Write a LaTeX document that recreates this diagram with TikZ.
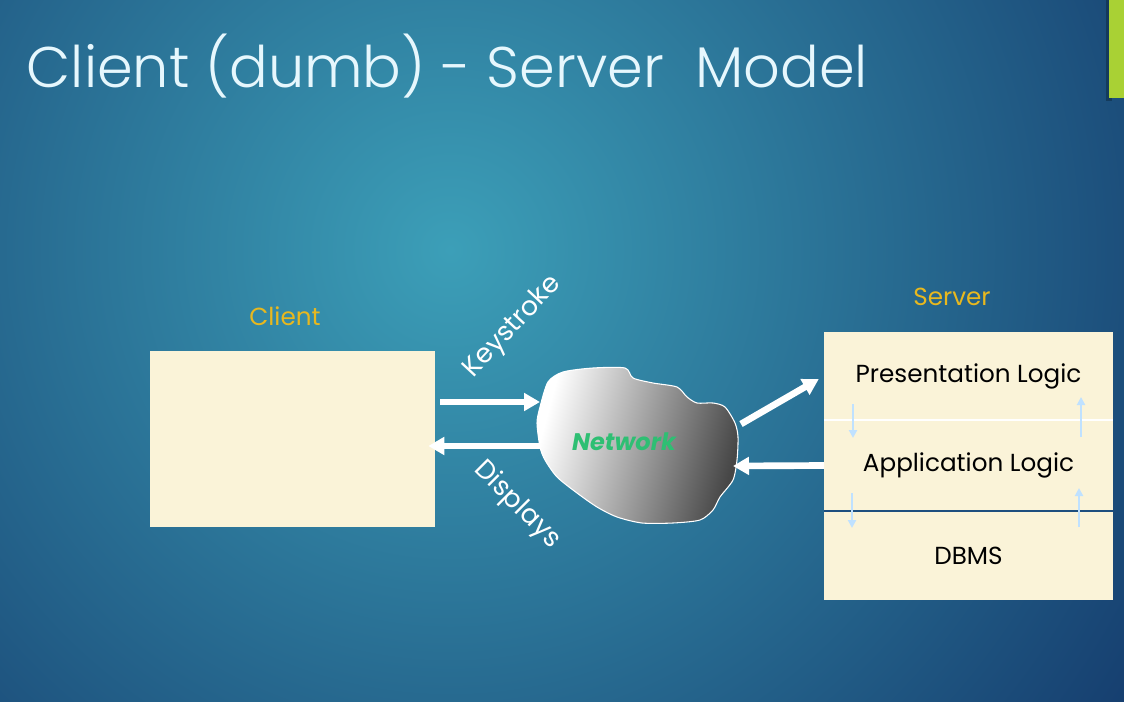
\documentclass[tikz,border=0pt]{standalone}
\usepackage{fontspec}
\setmainfont{Poppins}
\newfontfamily\titlefont{Poppins Light}
\usetikzlibrary{arrows.meta,positioning}
\definecolor{bgin}{HTML}{3C9FB8}
\definecolor{bgout}{HTML}{143A6C}
\definecolor{cream}{HTML}{FAF3D8}
\definecolor{gold}{HTML}{E8B81E}
\definecolor{netgreen}{HTML}{2EBF73}
\definecolor{lime}{HTML}{A9D134}
\definecolor{paleblue}{HTML}{BFE1FF}
\definecolor{divider}{HTML}{1D4E7E}

\begin{document}
\begin{tikzpicture}[x=0.75pt,y=-0.75pt,
    box/.style={fill=cream,inner sep=0pt,outer sep=0pt,font=\fontsize{18.5}{22}\selectfont},
    layer/.style={box,minimum width=216.75pt},
    tag/.style={text=gold,font=\fontsize{18.5}{22}\selectfont},
    fat/.style={line width=5pt,white,-{Triangle[length=12pt,width=13pt]}},
    slim/.style={line width=1.6pt,paleblue,-{Triangle[length=6pt,width=6pt]}},
    edge/.style={text=white,font=\fontsize{20}{24}\selectfont}]
\useasboundingbox (0,0) rectangle (1124,702);
\begin{scope}
  \clip (0,0) rectangle (1124,702);
  \fill[bgout] (0,0) rectangle (1124,702);
  \shade[inner color=bgin,outer color=bgout] (450,250) circle (640pt);
\end{scope}
\fill[black,opacity=0.25] (1106,0) rectangle (1112,101);
\fill[lime] (1109,0) rectangle (1124,98);
\node[anchor=base west,text=white!90!cyan,font=\titlefont\fontsize{43}{48}\selectfont] (title) at (22,88) {Client (dumb) - Server\ \ Model};

\node[box,minimum width=213.75pt,minimum height=132pt] (client) at (292.5,439) {};
\node[tag] (clientlbl) at (285,316) {Client};

\node[layer,minimum height=66pt] (pres) at (968.5,376) {Presentation Logic};
\node[layer,minimum height=68.25pt,below=0pt of pres] (app) {Application Logic};
\node[layer,minimum height=66.75pt,below=0pt of app] (dbms) {DBMS};
\draw[white,line width=1.5pt] (pres.south west) -- (pres.south east);
\draw[divider,line width=2.2pt] (app.south west) -- (app.south east);
\node[tag] (serverlbl) at (952,297) {Server};

\shade[draw=white,line width=0.8pt,left color=white,right color=black!72,shading angle=75]
  plot[smooth cycle,tension=0.45] coordinates {(548,382) (563,372) (593,368) (625,368) (633,378)
  (653,383) (677,387) (687,397) (697,403) (713,403) (725,407) (735,423) (738,437) (737,460)
  (733,480) (720,497) (713,510) (700,520) (673,523) (642,523) (617,517) (597,507) (577,493)
  (557,477) (545,460) (540,447) (537,423) (540,407)};
\node[text=netgreen,font=\fontsize{18}{22}\selectfont\bfseries\itshape] (net) at (624,442) {Network};
\coordinate (cw1) at (540,402);
\coordinate (cw2) at (540,446);
\coordinate (ce1) at (741,424);
\coordinate (ce2) at (733,466);

\draw[fat,shorten <=3.75pt] (client.east |- cw1) -- (cw1);
\draw[fat,shorten >=-5pt] (cw2) -- (client.east |- cw2);
\draw[fat,shorten >=4.5pt] (ce1) -- (pres.west);
\draw[fat] (app.west) -- (ce2);
\node[edge,rotate=47] (keylbl) at (513,327) {Keystroke};
\node[edge,rotate=-45] (displbl) at (517,505) {Displays};

\draw[slim] ([shift={(29,-16)}]pres.south west) -- ++(0,34);
\draw[slim] ([shift={(-32,17)}]pres.south east) -- ++(0,-40);
\draw[slim] ([shift={(28,-18)}]app.south west) -- ++(0,35);
\draw[slim] ([shift={(-34,16)}]app.south east) -- ++(0,-39);
\end{tikzpicture}
\end{document}
